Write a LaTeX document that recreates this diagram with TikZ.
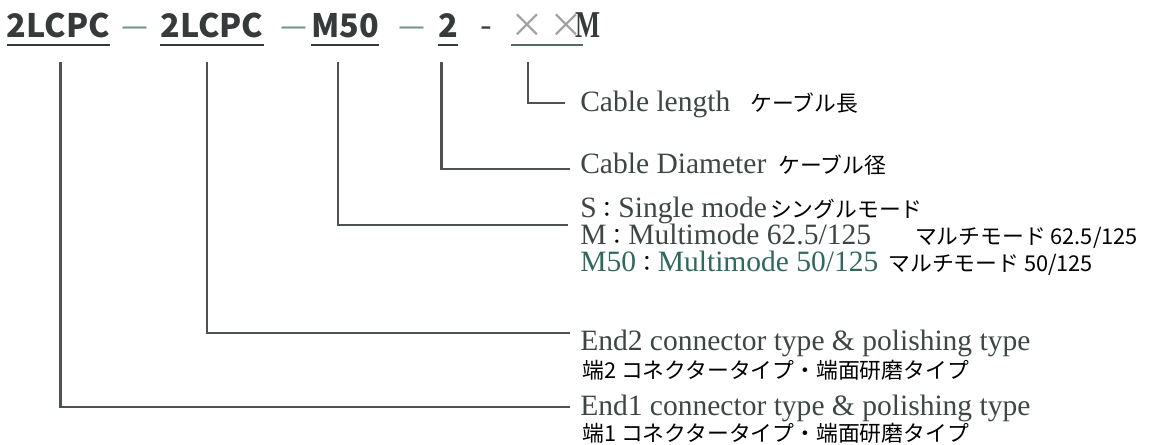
\documentclass[tikz,border=0pt]{standalone}
\usepackage{fontspec}
\setmainfont{Liberation Serif}
\newfontfamily\jpfont{Noto Sans CJK JP}
\usepackage{xcolor}
\definecolor{codegray}{RGB}{55,58,58}
\definecolor{dashteal}{RGB}{120,150,140}
\definecolor{xxgray}{RGB}{160,160,160}
\definecolor{leadgray}{RGB}{78,82,82}
\definecolor{labelgray}{RGB}{62,70,67}
\definecolor{modeteal}{RGB}{48,104,94}
\newcommand{\jptext}[1]{{\jpfont\fontsize{15.5}{19}\selectfont\color{black}#1}}
\usetikzlibrary{positioning,calc}

\begin{document}
\begin{tikzpicture}[
  code/.style={anchor=base, inner sep=0pt, font=\jpfont\bfseries\fontsize{23}{28}\selectfont, text=codegray},
  sep/.style={anchor=base, inner sep=0pt, font=\jpfont\fontsize{24}{28}\selectfont, text=dashteal},
  uline/.style={draw=codegray, line width=2pt},
  lead/.style={draw=leadgray, line width=2pt},
  en/.style={anchor=base west, inner sep=0pt, font=\fontsize{21}{25}\selectfont, text=labelgray},
  jp/.style={anchor=base west, inner sep=0pt, font=\jpfont\fontsize{15.5}{19}\selectfont, text=black}
]
\useasboundingbox (0,0) rectangle (28.85,11.1);

% model code row
\node[code] (e1code) at (1.46,10.175) {2LCPC};
\node[sep] (d1) at (3.38,10.175) {\scalebox{1.6}[1]{–}};
\node[code] (e2code) at (5.3,10.175) {2LCPC};
\node[sep] (d2) at (7.36,10.175) {\scalebox{1.6}[1]{–}};
\node[code] (fibre) at (8.625,10.175) {M50};
\node[sep] (d3) at (10.3,10.175) {\scalebox{1.6}[1]{–}};
\node[code] (dia) at (11.2,10.175) {2};
\node[sep, text=codegray] (d4) at (12.15,10.175) {-};
\node[anchor=base, inner sep=0pt, font=\jpfont\fontsize{24}{28}\selectfont, text=xxgray] (len) at (13.675,10.175) {×\hspace{0.12cm}×};
\node[anchor=base, inner sep=0pt, font=\bfseries\fontsize{27}{30}\selectfont, text=codegray] (unit) at (14.69,10.175) {\scalebox{0.7}[1]{M}};

\foreach \c in {e1code,e2code,fibre,dia}
  \draw[uline] ([yshift=-0.2cm]\c.base west) -- ([yshift=-0.2cm]\c.base east);
\draw[uline, draw=dashteal!70!black] ([yshift=-0.2cm]len.base west) -- ([yshift=-0.2cm]len.base east);

% labels
\node[en] (lentxt) at (14.5,8.325) {Cable length\hspace{0.5cm}\jptext{ケーブル長}};
\node[en] (diatxt) at (14.5,6.775) {Cable Diameter\hspace{0.3cm}\jptext{ケーブル径}};
\node[en] (smode) at (14.5,5.675) {S\jptext{：}Single mode\hspace{0.08cm}\jptext{シングルモード}};
\node[en] (mm62) at (14.5,5.0) {M\jptext{：}Multimode 62.5/125\hspace{1.1cm}\jptext{マルチモード 62.5/125}};
\node[en, text=modeteal] (mm50) at (14.5,4.325) {M50\jptext{：}Multimode 50/125\hspace{0.25cm}\jptext{マルチモード 50/125}};
\node[en] (end2txt) at (14.5,2.35) {End2 connector type \& polishing type};
\node[jp] (end2jp) at (14.55,1.65) {端2 コネクタータイプ・端面研磨タイプ};
\node[en] (end1txt) at (14.5,0.725) {End1 connector type \& polishing type};
\node[jp] (end1jp) at (14.55,0.075) {端1 コネクタータイプ・端面研磨タイプ};

% leads
\draw[lead] ([shift={(-0.475,-0.625)}]len.base) |- ([shift={(-0.375,0.2)}]lentxt.base west);
\draw[lead] ([shift={(-0.16,-0.625)}]dia.base) |- ([shift={(-0.25,0.1)}]diatxt.base west);
\draw[lead] ([shift={(-0.175,-0.625)}]fibre.base) |- ([shift={(-0.3,-0.2)}]smode.base west);
\draw[lead] ([shift={(-0.125,-0.625)}]e2code.base) |- ([shift={(-0.25,0.425)}]end2txt.base west);
\draw[lead] ([shift={(0.0625,-0.625)}]e1code.base) |- ([shift={(-0.25,0.2)}]end1txt.base west);
\end{tikzpicture}
\end{document}
